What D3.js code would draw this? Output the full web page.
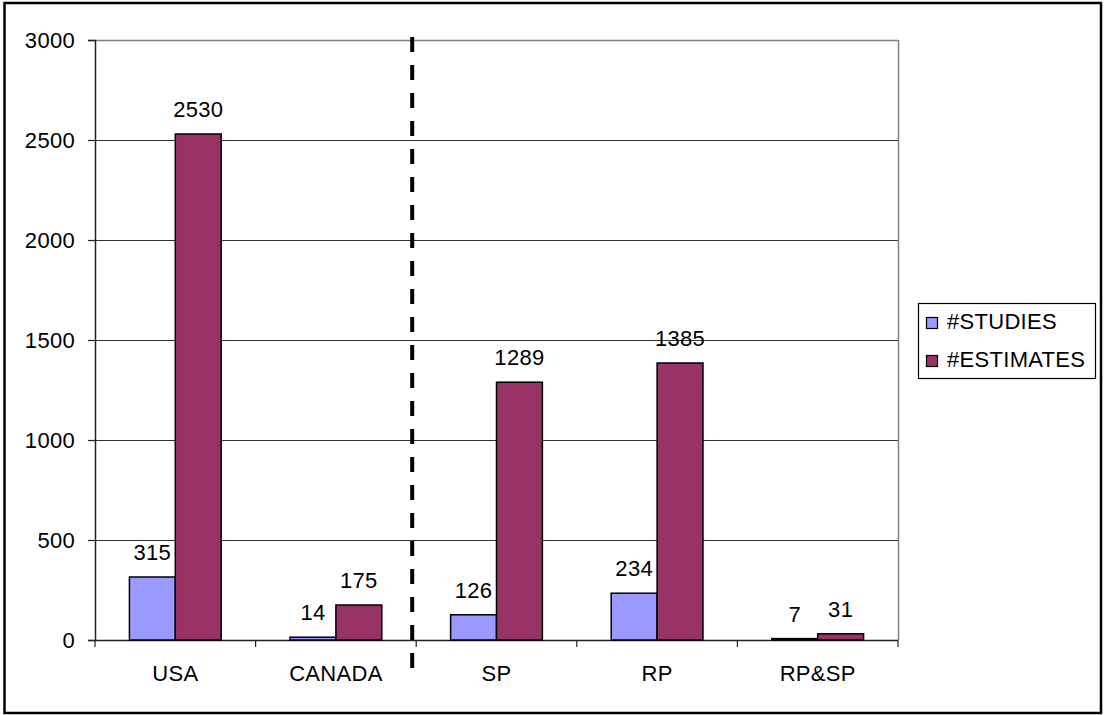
<!DOCTYPE html>
<html>
<head>
<meta charset="utf-8">
<script src="https://cdn.jsdelivr.net/npm/d3@7"></script>
<style>
  html, body { margin: 0; padding: 0; background: #fff; }
  svg { display: block; font-family: Arial, "Liberation Sans", sans-serif; }
  svg text { letter-spacing: 0.3px; }
</style>
</head>
<body>
<svg id="chart" width="1106" height="715"></svg>
<script>
// Chart data
const categories = ["USA", "CANADA", "SP", "RP", "RP&SP"];
const seriesNames = ["#STUDIES", "#ESTIMATES"];
const studies = [315, 14, 126, 234, 7];
const estimates = [2530, 175, 1289, 1385, 31];
const yTicks = [0, 500, 1000, 1500, 2000, 2500, 3000];
const colors = ["#9999FF", "#993366"];

const svg = d3.select("#chart");
const plot = { left: 95, top: 40, right: 898, bottom: 640 };
const fontSize = 22;

// Outer frame
svg.append("rect")
  .attr("x", 4.5).attr("y", 3).attr("width", 1096.5).attr("height", 710)
  .attr("fill", "#fff").attr("stroke", "#000").attr("stroke-width", 2.5);

const x = d3.scaleBand().domain(categories).range([plot.left, plot.right]);
const y = d3.scaleLinear().domain([0, 3000]).range([plot.bottom, plot.top]);
// Gap width of 150%: two bars fill 2/3.5 of each category
const barW = x.bandwidth() / 3.5;
const xs = d3.scaleBand().domain(seriesNames)
  .range([x.bandwidth() / 2 - barW, x.bandwidth() / 2 + barW]);

// Horizontal gridlines
svg.append("g").selectAll("line")
  .data(yTicks.filter(d => d > 0))
  .join("line")
  .attr("x1", plot.left).attr("x2", plot.right)
  .attr("y1", d => Math.round(y(d)) + 0.5).attr("y2", d => Math.round(y(d)) + 0.5)
  .attr("stroke", d => d === 3000 ? "#808080" : "#333")
  .attr("stroke-width", d => d === 3000 ? 1.5 : 1);

// Right edge of plot area
svg.append("line")
  .attr("x1", plot.right + 0.5).attr("x2", plot.right + 0.5)
  .attr("y1", plot.top).attr("y2", plot.bottom)
  .attr("stroke", "#808080").attr("stroke-width", 1.5);

// Y axis
const yAxis = d3.axisLeft(y).tickValues(yTicks).tickSize(7).tickPadding(13)
  .tickFormat(d3.format("d"));
const gy = svg.append("g").attr("transform", `translate(${plot.left},0)`).call(yAxis);
gy.select(".domain").attr("stroke", "#222").attr("stroke-width", 1.5);
gy.selectAll(".tick line").attr("stroke", "#222").attr("stroke-width", 1.2);
gy.selectAll(".tick text").attr("font-size", fontSize).attr("fill", "#000")
  .attr("font-family", "Arial, 'Liberation Sans', sans-serif").attr("dy", "0.36em");

// X axis with ticks at category boundaries
const gx = svg.append("g").attr("transform", `translate(0,${plot.bottom})`);
gx.append("line").attr("x1", plot.left).attr("x2", plot.right)
  .attr("y1", 0.5).attr("y2", 0.5).attr("stroke", "#222").attr("stroke-width", 1.5);
const bounds = categories.map(c => x(c)).concat([plot.right]);
gx.selectAll("line.tk").data(bounds).join("line").attr("class", "tk")
  .attr("x1", d => d).attr("x2", d => d).attr("y1", 0).attr("y2", 7)
  .attr("stroke", "#222").attr("stroke-width", 1.2);
gx.selectAll("text").data(categories).join("text")
  .attr("x", d => x(d) + x.bandwidth() / 2).attr("y", 41)
  .attr("text-anchor", "middle").attr("font-size", fontSize).attr("fill", "#000")
  .text(d => d);

// Bars
const rows = categories.map((c, i) => ({ cat: c, vals: [studies[i], estimates[i]] }));
const groups = svg.append("g").selectAll("g").data(rows).join("g")
  .attr("transform", d => `translate(${x(d.cat)},0)`);
groups.selectAll("rect")
  .data(d => d.vals.map((v, j) => ({ name: seriesNames[j], v, j })))
  .join("rect")
  .attr("x", d => xs(d.name)).attr("width", xs.bandwidth())
  .attr("y", d => y(d.v)).attr("height", d => y(0) - y(d.v))
  .attr("fill", d => colors[d.j]).attr("stroke", "#000").attr("stroke-width", 1.5);

// Value labels
groups.selectAll("text")
  .data(d => d.vals.map((v, j) => ({ name: seriesNames[j], v, j })))
  .join("text")
  .attr("x", d => xs(d.name) + xs.bandwidth() / 2)
  .attr("y", d => y(d.v) - 17)
  .attr("text-anchor", "middle").attr("font-size", fontSize).attr("fill", "#000")
  .text(d => d.v);

// Dashed separator between the country and method groups
const sepX = (x("CANADA") + x.bandwidth() + x("SP")) / 2 - 4;
svg.append("line")
  .attr("x1", sepX).attr("x2", sepX).attr("y1", 37).attr("y2", 668)
  .attr("stroke", "#000").attr("stroke-width", 4)
  .attr("stroke-dasharray", "15 13");

// Legend
const lg = svg.append("g");
lg.append("rect").attr("x", 918.5).attr("y", 303.5).attr("width", 177).attr("height", 75)
  .attr("fill", "#fff").attr("stroke", "#000").attr("stroke-width", 1.2);
const items = lg.selectAll("g").data(seriesNames).join("g")
  .attr("transform", (d, i) => `translate(0,${i * 38})`);
items.append("rect").attr("x", 926.5).attr("y", 317.5).attr("width", 11).attr("height", 11)
  .attr("fill", (d, i) => colors[i]).attr("stroke", "#000").attr("stroke-width", 1.2);
items.append("text").attr("x", 947).attr("y", 329)
  .attr("font-size", 22).attr("fill", "#000").text(d => d);
</script>
</body>
</html>
